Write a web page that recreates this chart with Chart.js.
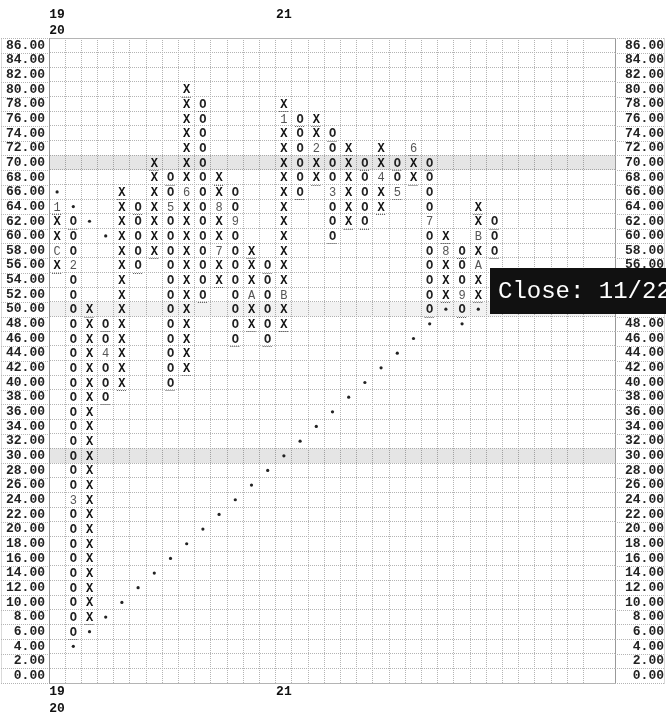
<!DOCTYPE html>
<html>
<head>
<meta charset="utf-8">
<script src="https://cdn.jsdelivr.net/npm/chart.js@4.4.0/dist/chart.umd.min.js"></script>
<style>
  html, body { margin: 0; padding: 0; background: #fff; }
  #wrap { width: 666px; height: 712px; position: relative; }
</style>
</head>
<body>
<div id="wrap"><canvas id="pnf"></canvas></div>
<script>
// ---- Point & Figure data (box size 2) ----
var boxSize = 2;
var colKind = ['X','O','X','O','X','O','X','O','X','O','X','O','X','O','X','O','X','O','X','O','X','O','X','O','X','O','X','O'];
var colLow  = [56, 6, 8,38,40,56,58,40,42,52,54,46,48,46,48,66,68,60,62,62,64,66,68,50,52,50,52,58];
var colHigh = [64,62,50,48,66,64,70,68,80,78,68,66,58,56,78,76,76,74,72,70,72,70,72,70,60,58,64,62];

// month codes written in place of a box
var monthCol   = [0, 0, 1, 1, 3, 7, 8,10,10,11,12,14,14,16,17,20,21,22,23,24,25,26,26];
var monthPrice = [58,64,56,24,44,64,66,58,64,62,52,52,76,72,66,68,66,72,62,58,52,56,60];
var monthCode  = ['C','1','2','3','4','5','6','7','8','9','A','B','1','2','3','4','5','6','7','8','9','A','B'];

// trend line dots
var resistCol   = [0, 1, 2, 3];
var resistPrice = [66,64,62,60];
var supportCol   = [1,2,3,4, 5, 6, 7, 8, 9,10,11,12,13,14,15,16,17,18,19,20,21,22,23,24,25,26];
var supportPrice = [4,6,8,10,12,14,16,18,20,22,24,26,28,30,32,34,36,38,40,42,44,46,48,50,48,50];

// axis labels
var priceTicks = [0,2,4,6,8,10,12,14,16,18,20,22,24,26,28,30,32,34,36,38,40,42,44,46,48,50,52,54,56,58,60,62,64,66,68,70,72,74,76,78,80,82,84,86];
var yearCol   = [0, 14];
var yearLabel = [['19','20'], ['21']];
var bandPrice = [70, 50, 30];
var bandAlpha = [0.10, 0.05, 0.10];
var closeText = 'Close: 11/22';

var MONO = "'Liberation Mono', 'DejaVu Sans Mono', monospace";
var gridColor = '#b4b4b4';

// ---- build the boxes from the columns ----
function monthAt(c, p) {
    for (var i = 0; i < monthCol.length; i++) {
        if (monthCol[i] === c && monthPrice[i] === p) return monthCode[i];
    }
    return null;
}

var xPts = [], oPts = [], mPts = [], mTxt = [], edgePts = [];
colKind.forEach(function (kind, c) {
    for (var p = colLow[c]; p <= colHigh[c]; p += boxSize) {
        var m = monthAt(c, p);
        if (m) { mPts.push({x: c, y: p}); mTxt.push(m); }
        else if (kind === 'X') xPts.push({x: c, y: p});
        else oPts.push({x: c, y: p});
    }
    // dotted marks under the first box and under the bottom box
    edgePts.push({x: c, y: colHigh[c] - boxSize / 2});
    edgePts.push({x: c, y: colLow[c] - boxSize / 2});
});

var gridCols = [];
for (var g = -0.5; g <= 32.5; g += 1) gridCols.push(g);
var gridRows = [];
for (var r = -1; r <= 87; r += 1) gridRows.push(r);

function yearFor(v, padTop) {
    var i = yearCol.indexOf(v);
    if (i < 0) return '';
    var lab = yearLabel[i].slice();
    // top axis stacks from the bottom, so pad short labels to keep them on the first line
    if (padTop) while (lab.length < 2) lab.push('');
    return lab;
}

// ---- plugin: bands, label cells, glyphs, close tag ----
var pnfPlugin = {
    id: 'pnf',
    beforeDatasetsDraw: function (chart) {
        var ctx = chart.ctx, a = chart.chartArea, ys = chart.scales.y;
        ctx.save();
        bandPrice.forEach(function (p, i) {
            var t = ys.getPixelForValue(p + 1), b = ys.getPixelForValue(p - 1);
            ctx.fillStyle = 'rgba(0,0,0,' + bandAlpha[i] + ')';
            ctx.fillRect(a.left, t, a.right - a.left, b - t);
        });
        // label cell borders on both sides
        ctx.strokeStyle = gridColor;
        ctx.lineWidth = 1;
        ctx.setLineDash([1, 1]);
        gridRows.forEach(function (v) {
            if (v % 2 === 0) return;
            var y = Math.round(ys.getPixelForValue(v)) + 0.5;
            ctx.beginPath();
            ctx.moveTo(1, y); ctx.lineTo(a.left, y);
            ctx.moveTo(a.right, y); ctx.lineTo(chart.width - 1, y);
            ctx.stroke();
        });
        var t0 = Math.round(ys.getPixelForValue(87)) + 0.5, b0 = Math.round(ys.getPixelForValue(-1)) + 0.5;
        ctx.beginPath();
        ctx.moveTo(1.5, t0); ctx.lineTo(1.5, b0);
        ctx.moveTo(chart.width - 1.5, t0); ctx.lineTo(chart.width - 1.5, b0);
        ctx.stroke();
        ctx.restore();
    },
    afterDatasetsDraw: function (chart) {
        var ctx = chart.ctx;
        ctx.save();
        ctx.textAlign = 'center';
        ctx.textBaseline = 'middle';
        chart.data.datasets.forEach(function (ds, i) {
            var meta = chart.getDatasetMeta(i);
            if (ds.glyphs) {
                ctx.font = ds.glyphFont;
                ctx.fillStyle = ds.glyphColor;
                meta.data.forEach(function (pt, j) {
                    ctx.fillText(ds.glyphs[j], pt.x, pt.y + 1);
                });
            }
            if (ds.edgeDash) {
                ctx.strokeStyle = '#555';
                ctx.lineWidth = 1;
                ctx.setLineDash([1, 1]);
                meta.data.forEach(function (pt) {
                    var y = Math.round(pt.y) + 0.5;
                    ctx.beginPath();
                    ctx.moveTo(pt.x - 5, y);
                    ctx.lineTo(pt.x + 5, y);
                    ctx.stroke();
                });
                ctx.setLineDash([]);
            }
        });
        ctx.restore();
    },
    afterDraw: function (chart) {
        var ctx = chart.ctx, xs = chart.scales.x, ys = chart.scales.y;
        var left = Math.round(xs.getPixelForValue(26.72));
        var top = Math.round(ys.getPixelForValue(55.6));
        var bottom = Math.round(ys.getPixelForValue(49.4));
        ctx.save();
        ctx.fillStyle = '#111';
        ctx.fillRect(left, top, chart.width - left, bottom - top);
        ctx.fillStyle = '#fff';
        ctx.font = '24px ' + MONO;
        ctx.textAlign = 'left';
        ctx.textBaseline = 'middle';
        ctx.fillText(closeText, left + 8, (top + bottom) / 2 + 1);
        ctx.restore();
    }
};

function priceLabel(v) {
    return (v % 2 === 0 && v >= 0 && v <= 86) ? Number(v).toFixed(2) : '';
}

var tickFont = { family: MONO, size: 13, weight: 'bold' };
var yearFont = { family: MONO, size: 13, weight: 'bold', lineHeight: 1.25 };

var pnfChart = new Chart(document.getElementById('pnf'), {
    type: 'scatter',
    data: {
        datasets: [
            { label: 'X', data: xPts, pointRadius: 0, glyphs: xPts.map(function () { return 'X'; }),
              glyphFont: 'bold 12px ' + MONO, glyphColor: '#111' },
            { label: 'O', data: oPts, pointRadius: 0, glyphs: oPts.map(function () { return 'O'; }),
              glyphFont: 'bold 12px ' + MONO, glyphColor: '#222' },
            { label: 'month', data: mPts, pointRadius: 0, glyphs: mTxt,
              glyphFont: '12px ' + MONO, glyphColor: '#555' },
            { label: 'edges', data: edgePts, pointRadius: 0, edgeDash: true },
            { label: 'resistance', data: resistCol.map(function (c, i) { return {x: c, y: resistPrice[i]}; }),
              pointRadius: 1.6, pointBackgroundColor: '#222', pointBorderWidth: 0 },
            { label: 'support', data: supportCol.map(function (c, i) { return {x: c, y: supportPrice[i]}; }),
              pointRadius: 1.6, pointBackgroundColor: '#222', pointBorderWidth: 0 }
        ]
    },
    options: {
        responsive: true,
        maintainAspectRatio: false,
        animation: false,
        devicePixelRatio: 1,
        layout: { padding: { left: 0, right: 2, top: 0, bottom: 0 } },
        plugins: { legend: { display: false }, tooltip: { enabled: false } },
        scales: {
            x: {
                type: 'linear', position: 'bottom', min: -0.5, max: 34.44,
                afterBuildTicks: function (s) {
                    s.ticks = gridCols.concat(yearCol).map(function (v) { return {value: v}; });
                },
                afterFit: function (s) { s.height = 29; },
                grid: {
                    color: function (ctx) { return Number.isInteger(ctx.tick.value) ? 'rgba(0,0,0,0)' : gridColor; },
                    drawTicks: false
                },
                border: { display: true, color: gridColor, dash: [1, 1] },
                ticks: {
                    autoSkip: false, maxRotation: 0, padding: 1,
                    font: yearFont, color: '#111',
                    callback: function (v) { return yearFor(v, false); }
                }
            },
            x2: {
                type: 'linear', position: 'top', min: -0.5, max: 34.44,
                afterBuildTicks: function (s) {
                    s.ticks = yearCol.map(function (v) { return {value: v}; });
                },
                afterFit: function (s) { s.height = 38; },
                grid: { display: false, drawTicks: false },
                border: { display: true, color: gridColor, dash: [1, 1] },
                ticks: {
                    autoSkip: false, maxRotation: 0, padding: -1,
                    font: yearFont, color: '#111',
                    callback: function (v) { return yearFor(v, true); }
                }
            },
            y: {
                type: 'linear', position: 'left', min: -1, max: 87,
                afterBuildTicks: function (s) {
                    s.ticks = gridRows.map(function (v) { return {value: v}; });
                },
                afterFit: function (s) { s.width = 49; },
                grid: {
                    color: function (ctx) { return Math.abs(ctx.tick.value % 2) === 1 ? gridColor : 'rgba(0,0,0,0)'; },
                    drawTicks: false
                },
                border: { display: true, color: '#999', dash: [1, 1] },
                ticks: {
                    autoSkip: false, padding: 4, font: tickFont, color: '#222',
                    callback: function (v) { return priceLabel(v); }
                }
            },
            y2: {
                type: 'linear', position: 'right', min: -1, max: 87,
                afterBuildTicks: function (s) {
                    s.ticks = gridRows.map(function (v) { return {value: v}; });
                },
                afterFit: function (s) { s.width = 49; },
                grid: { display: false, drawTicks: false },
                border: { display: true, color: '#999', dash: [1, 1] },
                ticks: {
                    autoSkip: false, padding: 4, crossAlign: 'far', font: tickFont, color: '#222',
                    callback: function (v) { return priceLabel(v); }
                }
            }
        }
    },
    plugins: [pnfPlugin]
});
</script>
</body>
</html>
